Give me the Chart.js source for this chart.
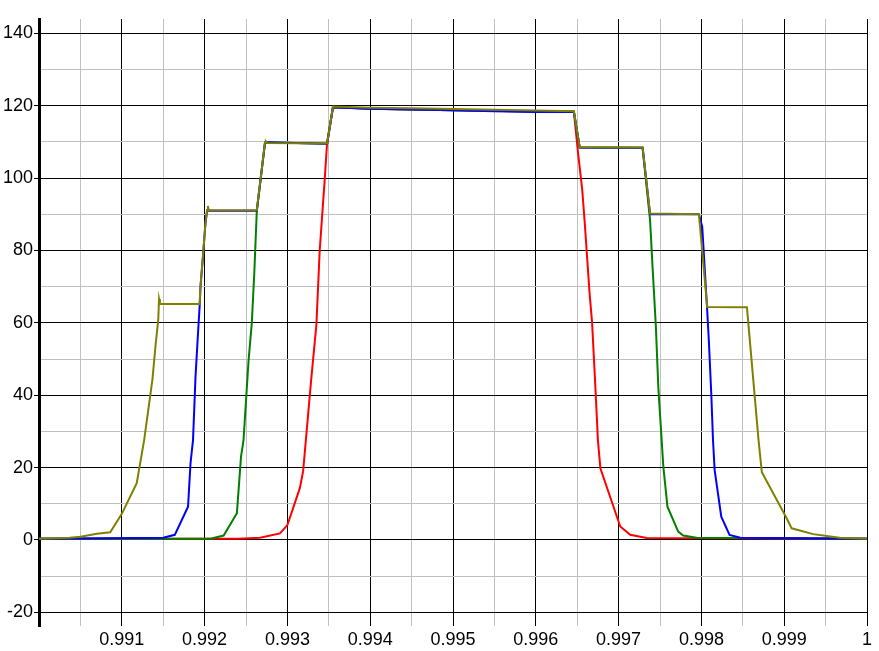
<!DOCTYPE html>
<html>
<head>
<meta charset="utf-8">
<script src="https://cdn.jsdelivr.net/npm/chart.js@4"></script>
<style>
html,body{margin:0;padding:0;background:#ffffff;}
canvas{display:block;}
</style>
</head>
<body>
<canvas id="c" width="879" height="651"></canvas>
<script>
// ---- series data ----
const oliveX = [0.990, 0.99037, 0.9905, 0.9907, 0.99086, 0.991, 0.99118, 0.99127, 0.99137, 0.99141, 0.99144, 0.99145, 0.99146, 0.99147, 0.99194, 0.99195, 0.99198, 0.99201, 0.99203, 0.99204, 0.99205, 0.99263, 0.99273, 0.99274, 0.99276, 0.99348, 0.99355, 0.9940, 0.9945, 0.9950, 0.9955, 0.9960, 0.99646, 0.99653, 0.99729, 0.99738, 0.99797, 0.99807, 0.99855, 0.99869, 0.99873, 0.99903, 0.99909, 0.99935, 0.99967, 1.0];
const oliveY = [0.3, 0.6, 0.9, 1.7, 2.1, 7.2, 15.7, 27.6, 44.4, 54.3, 60.8, 66.6, 65.4, 65.2, 65.2, 70, 78.3, 87.5, 91.2, 92.3, 91.1, 91.1, 110.0, 110.2, 109.7, 109.6, 119.8, 119.5, 119.3, 119.1, 118.9, 118.7, 118.5, 108.6, 108.5, 90.2, 90.0, 64.4, 64.3, 27.6, 18.7, 6.0, 3.2, 1.6, 0.6, 0.3];

const blueX = [0.990, 0.9915, 0.99164, 0.9918, 0.99183, 0.99186, 0.99189, 0.99192, 0.99194, 0.99195, 0.99198, 0.99201, 0.99203, 0.99263, 0.99273, 0.99348, 0.99355, 0.9940, 0.9945, 0.9950, 0.9955, 0.9960, 0.99646, 0.99653, 0.99729, 0.99738, 0.99797, 0.99801, 0.99807, 0.99809, 0.99812, 0.99814, 0.99816, 0.99824, 0.99834, 0.99847, 1.0];
const blueY = [0.3, 0.6, 1.4, 9.2, 21.2, 27.6, 45, 57, 64.6, 70, 78.3, 87.5, 91.0, 91.0, 109.9, 109.5, 119.6, 119.2, 119.0, 118.8, 118.5, 118.3, 118.3, 108.5, 108.4, 90.0, 90.0, 86.5, 63.5, 55, 40, 27.6, 19.3, 6.4, 1.4, 0.6, 0.3];

const greenX = [0.990, 0.99207, 0.99223, 0.99239, 0.99244, 0.99247, 0.99253, 0.99257, 0.9926, 0.99263, 0.99273, 0.99348, 0.99355, 0.9940, 0.9950, 0.9960, 0.99646, 0.99653, 0.99729, 0.99738, 0.99741, 0.99745, 0.99748, 0.99752, 0.99754, 0.99759, 0.99772, 0.99778, 0.99794, 1.0];
const greenY = [0.3, 0.3, 1.2, 7.4, 23, 27.6, 49.3, 60, 73.7, 90.7, 109.9, 109.5, 119.6, 119.2, 118.8, 118.4, 118.4, 108.5, 108.4, 88.4, 75.5, 59, 42, 27.6, 20.3, 9.2, 2.3, 1.2, 0.6, 0.3];

const redX = [0.990, 0.99240, 0.99267, 0.99291, 0.9930, 0.99315, 0.99319, 0.99329, 0.99335, 0.99339, 0.99345, 0.99348, 0.99355, 0.9940, 0.9950, 0.9960, 0.99646, 0.99651, 0.99656, 0.99659, 0.99662, 0.99665, 0.99668, 0.99672, 0.99675, 0.99678, 0.99702, 0.99714, 0.99734, 1.0];
const redY = [0.3, 0.3, 0.6, 1.8, 4.1, 14.3, 19, 45, 59.4, 80, 99.4, 110, 119.6, 119.2, 118.8, 118.4, 118.4, 107, 97, 88, 78, 68, 60, 42, 27.6, 19.8, 3.7, 1.4, 0.5, 0.3];

// ---- axis ticks ----
const xMajorValues = [0.991, 0.992, 0.993, 0.994, 0.995, 0.996, 0.997, 0.998, 0.999, 1.0];
const xTickLabels  = ['0.991', '0.992', '0.993', '0.994', '0.995', '0.996', '0.997', '0.998', '0.999', '1'];
const xMinorValues = [0.9905, 0.9915, 0.9925, 0.9935, 0.9945, 0.9955, 0.9965, 0.9975, 0.9985, 0.9995];
const yMajorValues = [-20, 0, 20, 40, 60, 80, 100, 120, 140];
const yTickLabels  = ['-20', '0', '20', '40', '60', '80', '100', '120', '140'];
const yMinorValues = [-10, 10, 30, 50, 70, 90, 110, 130];

const xMin = 0.990, xMax = 1.0, yMin = -23.8, yMax = 144;

function pts(xs, ys) { return xs.map((x, i) => ({ x: x, y: ys[i] })); }
function buildTicks(major, minor) {
  const all = major.map(v => ({ value: v, major: true })).concat(minor.map(v => ({ value: v, major: false })));
  all.sort((a, b) => a.value - b.value);
  return all;
}
function labelFor(v, major, labels) {
  const i = major.findIndex(m => Math.abs(m - v) < 1e-9);
  return i >= 0 ? labels[i] : '';
}
const isMajor = ctx => ctx.tick && ctx.tick.major;
const FONT = { family: 'Liberation Sans', size: 18 };

Chart.defaults.font.family = 'Liberation Sans';
Chart.defaults.color = '#000000';

new Chart(document.getElementById('c'), {
  type: 'line',
  data: {
    datasets: [
      { label: 'olive', data: pts(oliveX, oliveY), borderColor: '#808000' },
      { label: 'blue',  data: pts(blueX, blueY),   borderColor: '#0000ff' },
      { label: 'green', data: pts(greenX, greenY), borderColor: '#008000' },
      { label: 'red',   data: pts(redX, redY),     borderColor: '#ff0000' }
    ].map(d => Object.assign(d, { borderWidth: 2, pointRadius: 0, tension: 0, fill: false }))
  },
  options: {
    responsive: false,
    animation: false,
    devicePixelRatio: 1,
    layout: { padding: { top: 19, right: 12, left: 0, bottom: 0 } },
    plugins: { legend: { display: false }, tooltip: { enabled: false } },
    scales: {
      x: {
        type: 'linear', min: xMin, max: xMax,
        afterBuildTicks: s => { s.ticks = buildTicks(xMajorValues, xMinorValues); },
        afterFit: s => { s.height = 25; },
        border: { display: false },
        grid: {
          color: ctx => isMajor(ctx) ? '#000000' : '#c0c0c0',
          lineWidth: 1,
          drawTicks: false
        },
        ticks: {
          autoSkip: false, maxRotation: 0, minRotation: 0, padding: 3,
          color: '#000000', font: FONT,
          callback: v => labelFor(v, xMajorValues, xTickLabels)
        }
      },
      y: {
        type: 'linear', min: yMin, max: yMax,
        afterBuildTicks: s => { s.ticks = buildTicks(yMajorValues, yMinorValues); },
        afterFit: s => { s.width = 39; },
        border: { display: true, color: '#000000', width: 3 },
        grid: {
          color: ctx => isMajor(ctx) ? '#000000' : '#c0c0c0',
          tickColor: ctx => isMajor(ctx) ? '#000000' : 'rgba(0,0,0,0)',
          lineWidth: 1,
          drawTicks: true, tickLength: 5
        },
        ticks: {
          autoSkip: false, padding: 1,
          color: '#000000', font: FONT,
          callback: v => labelFor(v, yMajorValues, yTickLabels)
        }
      }
    }
  }
});
</script>
</body>
</html>
